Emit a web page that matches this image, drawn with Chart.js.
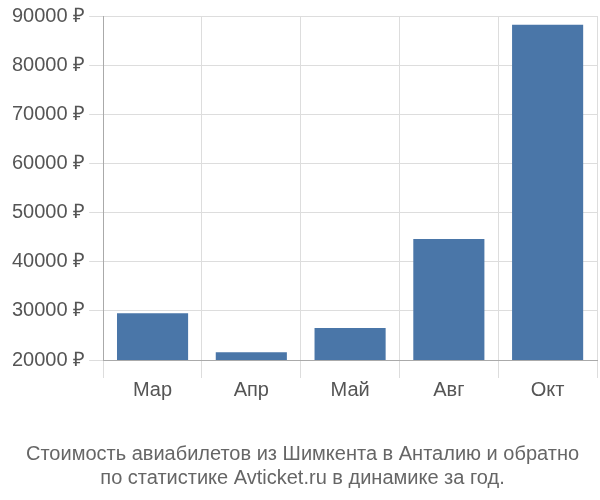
<!DOCTYPE html>
<html><head><meta charset="utf-8">
<script src="https://cdn.jsdelivr.net/npm/chart.js"></script>
<style>body{margin:0;background:#fff}#w{width:600px;height:500px}</style>
</head><body><div id="w"><canvas id="c"></canvas></div>
<script>
const categories = ["Мар","Апр","Май","Авг","Окт"];
const prices = [29500, 21600, 26500, 44600, 88200];
const titleLines = ["Стоимость авиабилетов из Шимкента в Анталию и обратно","по статистике Avticket.ru в динамике за год."];
new Chart(document.getElementById('c'), {
  type: 'bar',
  data: { labels: categories, datasets: [{ data: prices, backgroundColor: '#4a76a8', barPercentage: 0.72, categoryPercentage: 1 }] },
  options: {
    responsive: true, maintainAspectRatio: false, animation: false,
    layout: { padding: { top: 8, right: 3, left: 8, bottom: 10 } },
    plugins: {
      legend: { display: false }, tooltip: { enabled: false },
      title: { display: true, position: 'bottom', text: titleLines, color: '#666',
        font: { family: 'Liberation Sans', size: 20, weight: 'normal' }, padding: { top: 40, bottom: 0 }, lineHeight: 1.25 }
    },
    scales: {
      x: { grid: { color: '#ddd', tickLength: 18, offset: true }, border: { color: '#aaa' },
        ticks: { color: '#555', font: { family: 'Liberation Sans', size: 20 }, padding: 0 } },
      y: { min: 20000, max: 90000, grid: { color: '#ddd', tickLength: 14 }, border: { color: '#aaa' },
        ticks: { stepSize: 10000, color: '#555', font: { family: 'Liberation Sans', size: 20 }, padding: 4,
          callback: v => v + ' ₽' } }
    }
  }
});
</script></body></html>
